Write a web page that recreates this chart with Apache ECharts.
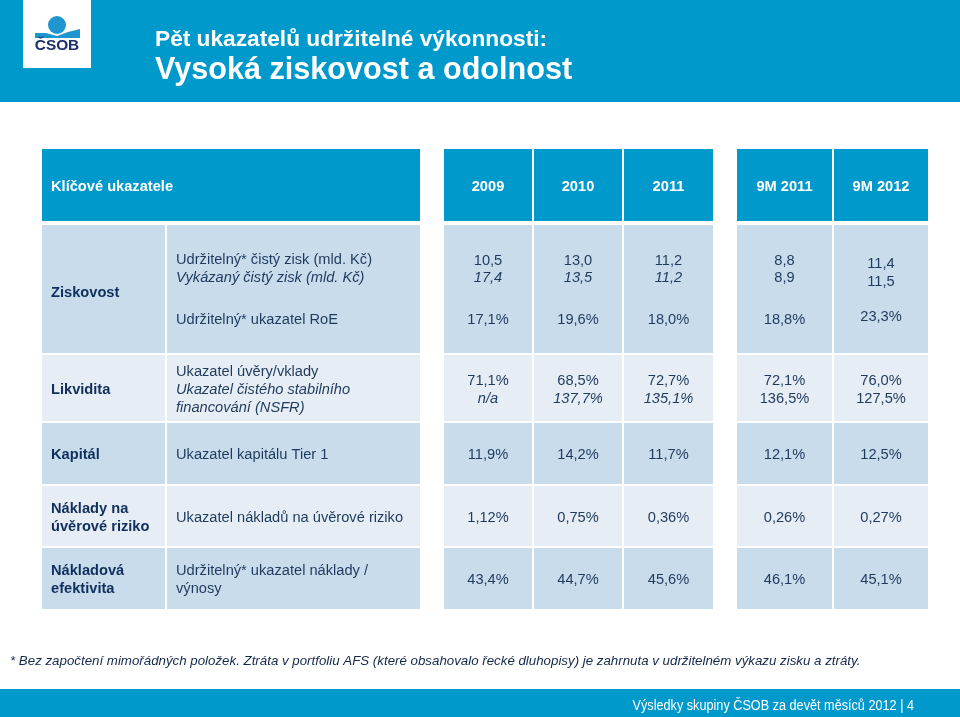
<!DOCTYPE html>
<html>
<head>
<meta charset="utf-8">
<style>html,body{margin:0;padding:0;background:#fff}#main{width:960px;height:717px}</style>
<script src="https://cdn.jsdelivr.net/npm/echarts@6/dist/echarts.min.js"></script>
</head>
<body>
<div id="main"></div>
<script>
const BLUE = '#0099cc'
const DARK = '#c9dcec'
const LIGHT = '#e6edf5'
const INK = '#1e3a5c'
const NAVY = '#0f2f5c'
const FONT = '"Liberation Sans", Arial, sans-serif'

// sloupce tabulky [x0, x1]
const cols = [[42, 165], [167, 420], [444, 532], [534, 622], [624, 713], [737, 832], [834, 928]]

const head = ['2009', '2010', '2011', '9M 2011', '9M 2012']

// radky: name = [text, y], label = [text, y, italic], values po sloupcich
const rows = [
  {
    y: [225, 353], fill: DARK,
    name: [['Ziskovost', 292]],
    label: [['Udržitelný* čistý zisk (mld. Kč)', 259], ['Vykázaný čistý zisk (mld. Kč)', 277, true], ['Udržitelný* ukazatel RoE', 319]],
    values: [
      [['10,5', 260], ['17,4', 277, true], ['17,1%', 319]],
      [['13,0', 260], ['13,5', 277, true], ['19,6%', 319]],
      [['11,2', 260], ['11,2', 277, true], ['18,0%', 319]],
      [['8,8', 260], ['8,9', 277], ['18,8%', 319]],
      [['11,4', 263], ['11,5', 281], ['23,3%', 316]],
    ],
  },
  {
    y: [355, 421], fill: LIGHT,
    name: [['Likvidita', 389]],
    label: [['Ukazatel úvěry/vklady', 371], ['Ukazatel čistého stabilního', 389, true], ['financování (NSFR)', 407, true]],
    values: [
      [['71,1%', 380], ['n/a', 398, true]],
      [['68,5%', 380], ['137,7%', 398, true]],
      [['72,7%', 380], ['135,1%', 398, true]],
      [['72,1%', 380], ['136,5%', 398]],
      [['76,0%', 380], ['127,5%', 398]],
    ],
  },
  {
    y: [423, 484], fill: DARK,
    name: [['Kapitál', 454]],
    label: [['Ukazatel kapitálu Tier 1', 454]],
    values: ['11,9%', '14,2%', '11,7%', '12,1%', '12,5%'].map(v => [[v, 454]]),
  },
  {
    y: [486, 546], fill: LIGHT,
    name: [['Náklady na', 508], ['úvěrové riziko', 526]],
    label: [['Ukazatel nákladů na úvěrové riziko', 517]],
    values: ['1,12%', '0,75%', '0,36%', '0,26%', '0,27%'].map(v => [[v, 517]]),
  },
  {
    y: [548, 609], fill: DARK,
    name: [['Nákladová', 570], ['efektivita', 588]],
    label: [['Udržitelný* ukazatel náklady /', 570], ['výnosy', 588]],
    values: ['43,4%', '44,7%', '45,6%', '46,1%', '45,1%'].map(v => [[v, 579]]),
  },
]

const g = []
const rect = (x0, y0, x1, y1, fill) => g.push({ type: 'rect', silent: true, shape: { x: x0, y: y0, width: x1 - x0, height: y1 - y0 }, style: { fill } })
const text = (s, x, y, o = {}) => g.push({
  type: 'text', silent: true, x, y: y + 1, scaleX: o.scaleX || 1,
  style: {
    text: s, fill: o.fill || INK, align: o.align || 'left', verticalAlign: 'middle',
    font: `${o.italic ? 'italic ' : ''}${o.bold ? 'bold ' : ''}${o.size || 14.65}px ${FONT}`,
  },
})

// zahlavi a paticka
rect(0, 0, 960, 102, BLUE)
rect(0, 689, 960, 717, BLUE)
rect(23, 0, 91, 68, '#fff')
// logo
g.push({ type: 'polygon', silent: true, shape: { points: [[35, 33], [46, 33], [57, 36], [68, 32], [80, 29], [80, 38], [35, 38]] }, style: { fill: '#1f96cf' } })
g.push({ type: 'circle', silent: true, shape: { cx: 57, cy: 25, r: 9 }, style: { fill: '#1f96cf' } })
text('ČSOB', 57, 45, { fill: '#1d2f6a', align: 'center', bold: true, size: 15.4 })
text('Pět ukazatelů udržitelné výkonnosti:', 155, 39, { fill: '#fff', bold: true, size: 22.7 })
text('Vysoká ziskovost a odolnost', 155, 70, { fill: '#fff', bold: true, size: 30.6 })

// hlavicka tabulky
rect(42, 149, 420, 221, BLUE)
text('Klíčové ukazatele', 51, 186, { fill: '#fff', bold: true })
head.forEach((h, i) => {
  const c = cols[i + 2]
  rect(c[0], 149, c[1], 221, BLUE)
  text(h, (c[0] + c[1]) / 2, 186, { fill: '#fff', bold: true, align: 'center' })
})

// radky tabulky
rows.forEach(r => {
  cols.forEach(c => rect(c[0], r.y[0], c[1], r.y[1], r.fill))
  r.name.forEach(n => text(n[0], 51, n[1], { bold: true, fill: NAVY }))
  r.label.forEach(l => text(l[0], 176, l[1], { italic: l[2] }))
  r.values.forEach((cell, i) => {
    const c = cols[i + 2]
    cell.forEach(v => text(v[0], (c[0] + c[1]) / 2, v[1], { italic: v[2], align: 'center' }))
  })
})

text('* Bez započtení mimořádných položek. Ztráta v portfoliu AFS (které obsahovalo řecké dluhopisy) je zahrnuta v udržitelném výkazu zisku a ztráty.', 10, 660, { italic: true, size: 13.3, fill: '#14284a' })
text('Výsledky skupiny ČSOB za devět měsíců 2012 | 4', 914, 705, { fill: '#fff', align: 'right', size: 14, scaleX: 0.905 })

echarts.init(document.getElementById('main')).setOption({ animation: false, graphic: { elements: g } })
</script>
</body>
</html>
